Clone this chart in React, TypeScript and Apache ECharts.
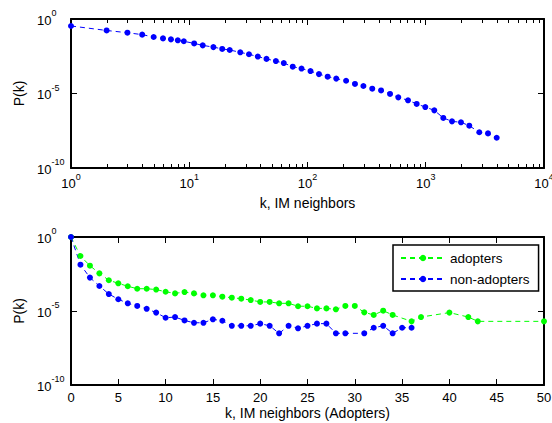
import React, { useEffect, useRef } from 'react';
import * as echarts from 'echarts';

// Top panel: P(k) vs k (IM neighbors), log-log
const topK = [1, 2, 3, 4, 5, 6, 7, 8, 9, 11, 13, 16, 19, 22, 27, 32, 38, 45, 54, 63, 75, 89, 106, 125, 148, 175, 212, 252, 297, 353, 419, 499, 586, 708, 838, 991, 1181, 1407, 1667, 1986, 2334, 2836, 3360, 3981];
const topP = [0.34, 0.17, 0.12, 0.089, 0.062, 0.05, 0.043, 0.037, 0.032, 0.023, 0.017, 0.013, 0.0098, 0.0083, 0.0058, 0.0043, 0.003, 0.0021, 0.0015, 0.0011, 6.3e-4, 4.7e-4, 3.2e-4, 2.0e-4, 1.35e-4, 1.0e-4, 7.2e-5, 4.4e-5, 3.2e-5, 2.1e-5, 1.6e-5, 9.3e-6, 5.5e-6, 3.5e-6, 2.0e-6, 1.23e-6, 7.4e-7, 2.3e-7, 1.35e-7, 1.17e-7, 6.9e-8, 2.5e-8, 2.1e-8, 1.07e-8];

// Bottom panel: adopters
const adoptK = [0, 1, 2, 3, 4, 5, 6, 7, 8, 9, 10, 11, 12, 13, 14, 15, 16, 17, 18, 19, 20, 21, 22, 23, 24, 25, 26, 27, 28, 29, 30, 31, 32, 33, 34, 36, 37, 40, 42, 43, 50];
const adoptP = [1, 0.052, 0.0115, 0.0035, 0.0012, 7.4e-4, 4.7e-4, 3.2e-4, 3.2e-4, 2.8e-4, 2.0e-4, 1.55e-4, 1.9e-4, 1.55e-4, 1.15e-4, 1.15e-4, 9.3e-5, 7.9e-5, 6.8e-5, 5.5e-5, 4.1e-5, 4.1e-5, 3.3e-5, 3.3e-5, 2.1e-5, 2.1e-5, 1.5e-5, 1.5e-5, 1.3e-5, 2.2e-5, 2.2e-5, 8.1e-6, 5.4e-6, 1.05e-5, 5.4e-6, 2.0e-6, 3.9e-6, 7.8e-6, 3.9e-6, 2.0e-6, 2.0e-6];

// Bottom panel: non-adopters
const nonK = [0, 1, 2, 3, 4, 5, 6, 7, 8, 9, 10, 11, 12, 13, 14, 15, 16, 17, 18, 19, 20, 21, 22, 23, 24, 25, 26, 27, 28, 29, 31, 32, 33, 34, 35, 36];
const nonP = [1, 0.0135, 0.0018, 4.9e-4, 1.4e-4, 6.2e-5, 3.3e-5, 2.2e-5, 1.4e-5, 7.8e-6, 3.5e-6, 3.9e-6, 2.3e-6, 1.6e-6, 1.6e-6, 2.75e-6, 2.2e-6, 1.0e-6, 1.0e-6, 1.0e-6, 1.4e-6, 1.0e-6, 3.1e-7, 1.0e-6, 6.8e-7, 1.0e-6, 1.4e-6, 1.4e-6, 3.1e-7, 3.1e-7, 3.1e-7, 7.4e-7, 1.0e-6, 3.1e-7, 7.4e-7, 7.4e-7];

const seriesNames = ['adopters', 'non-adopters'];
const xTitleTop = 'k, IM neighbors';
const xTitleBottom = 'k, IM neighbors (Adopters)';
const yTitle = 'P(k)';

// minor tick positions on the log k axis (2..9 per decade)
const minorDecades = [1, 10, 100, 1000];
const minorMult = [2, 3, 4, 5, 6, 7, 8, 9];

const FONT = 'Liberation Sans, Arial, Helvetica, sans-serif';
const BLUE = '#0000ff';
const GREEN = '#00ff00';
const INK = '#000000';

const powLabel = (v: number) => {
  const e = Math.round(Math.log10(v));
  return `{b|10}{s|${e}}`;
};
const richPow = () => ({
  b: { fontSize: 13, fontFamily: FONT, color: INK, lineHeight: 18, verticalAlign: 'bottom' },
  s: { fontSize: 9, fontFamily: FONT, color: INK, lineHeight: 18, verticalAlign: 'top' },
});

export default function App() {
  const ref = useRef<HTMLDivElement>(null);
  useEffect(() => {
    if (!ref.current) return;
    const chart = echarts.init(ref.current, null, { renderer: 'svg' });
    const minorTicks: number[][] = [];
    minorDecades.forEach((d) => minorMult.forEach((m) => minorTicks.push([m * d, 1])));

    const tickRender = (params: any, api: any) => {
      const x = Math.round(api.coord([api.value(0), api.value(1)])[0]) + 0.5;
      const cs = params.coordSys;
      return {
        type: 'group',
        children: [
          { type: 'line', shape: { x1: x, y1: cs.y + cs.height, x2: x, y2: cs.y + cs.height - 4 }, style: { stroke: INK, lineWidth: 1 } },
          { type: 'line', shape: { x1: x, y1: cs.y, x2: x, y2: cs.y + 4 }, style: { stroke: INK, lineWidth: 1 } },
        ],
      };
    };

    const commonSeries = (color: string) => ({
      type: 'line',
      symbol: 'circle',
      symbolSize: 6,
      showSymbol: true,
      itemStyle: { color },
      lineStyle: { color, width: 1, type: [5, 4] },
      emphasis: { disabled: true },
    });

    const frameAxis = (extra: any) => ({
      axisLine: { show: true, onZero: false, lineStyle: { color: INK, width: 2 } },
      axisTick: { show: true, inside: true, length: 6, lineStyle: { color: INK, width: 1 } },
      axisLabel: { show: false },
      splitLine: { show: false },
      ...extra,
    });

    const gridBox = (top: number, height: number) => ({
      left: 71, top, width: 473, height,
      outerBoundsMode: 'none', containLabel: false,
    });

    const option: any = {
      animation: false,
      textStyle: { fontFamily: FONT },
      grid: [gridBox(19, 149), gridBox(237, 148)],
      legend: {
        data: seriesNames,
        orient: 'vertical',
        left: 393,
        top: 245,
        itemWidth: 44,
        itemHeight: 8,
        itemGap: 6,
        padding: [5.5, 9, 4.5, 7],
        borderColor: INK,
        borderWidth: 1.5,
        backgroundColor: '#ffffff',
        textStyle: { fontSize: 13.5, fontFamily: FONT, color: INK, lineHeight: 15 },
        selectedMode: false,
      },
      xAxis: [
        frameAxis({
          type: 'log', logBase: 10, gridIndex: 0, min: 1, max: 10000, position: 'bottom',
          name: xTitleTop, nameLocation: 'middle', nameGap: 28,
          nameTextStyle: { fontSize: 14, fontFamily: FONT, color: INK },
          axisLabel: { show: true, formatter: powLabel, rich: richPow(), margin: 4, showMinLabel: true, showMaxLabel: true, hideOverlap: false },
        }),
        frameAxis({ type: 'log', logBase: 10, gridIndex: 0, min: 1, max: 10000, position: 'top' }),
        frameAxis({
          type: 'value', gridIndex: 1, min: 0, max: 50, interval: 5, position: 'bottom',
          name: xTitleBottom, nameLocation: 'middle', nameGap: 21,
          nameTextStyle: { fontSize: 14, fontFamily: FONT, color: INK },
          axisLabel: { show: true, fontSize: 13, fontFamily: FONT, color: INK, margin: 6, showMinLabel: true, showMaxLabel: true },
        }),
        frameAxis({ type: 'value', gridIndex: 1, min: 0, max: 50, interval: 5, position: 'top' }),
      ],
      yAxis: [
        frameAxis({
          type: 'log', logBase: 10, gridIndex: 0, min: 1e-10, max: 1, interval: 5, position: 'left',
          name: yTitle, nameLocation: 'middle', nameGap: 41,
          nameTextStyle: { fontSize: 14, fontFamily: FONT, color: INK },
          axisLabel: { show: true, formatter: powLabel, rich: richPow(), margin: 34, align: 'left', padding: [0, 0, 3, 0], showMinLabel: true, showMaxLabel: true },
        }),
        frameAxis({ type: 'log', logBase: 10, gridIndex: 0, min: 1e-10, max: 1, interval: 5, position: 'right' }),
        frameAxis({
          type: 'log', logBase: 10, gridIndex: 1, min: 1e-10, max: 1, interval: 5, position: 'left',
          name: yTitle, nameLocation: 'middle', nameGap: 41,
          nameTextStyle: { fontSize: 14, fontFamily: FONT, color: INK },
          axisLabel: { show: true, formatter: powLabel, rich: richPow(), margin: 34, align: 'left', padding: [0, 0, 3, 0], showMinLabel: true, showMaxLabel: true },
        }),
        frameAxis({ type: 'log', logBase: 10, gridIndex: 1, min: 1e-10, max: 1, interval: 5, position: 'right' }),
      ],
      series: [
        {
          type: 'custom', name: 'minor', xAxisIndex: 0, yAxisIndex: 0, clip: false,
          data: minorTicks, renderItem: tickRender,
        },
        {
          ...commonSeries(BLUE), name: 'P(k)', xAxisIndex: 0, yAxisIndex: 0,
          data: topK.map((k, i) => [k, topP[i]]),
        },
        {
          ...commonSeries(GREEN), name: seriesNames[0], xAxisIndex: 2, yAxisIndex: 2,
          data: adoptK.map((k, i) => [k, adoptP[i]]),
        },
        {
          ...commonSeries(BLUE), name: seriesNames[1], xAxisIndex: 2, yAxisIndex: 2,
          data: nonK.map((k, i) => [k, nonP[i]]),
        },
      ],
    };
    chart.setOption(option);
    return () => chart.dispose();
  }, []);
  return <div ref={ref} style={{ position: 'fixed', left: 0, top: 0, width: 552, height: 423, background: '#ffffff' }} />;
}
